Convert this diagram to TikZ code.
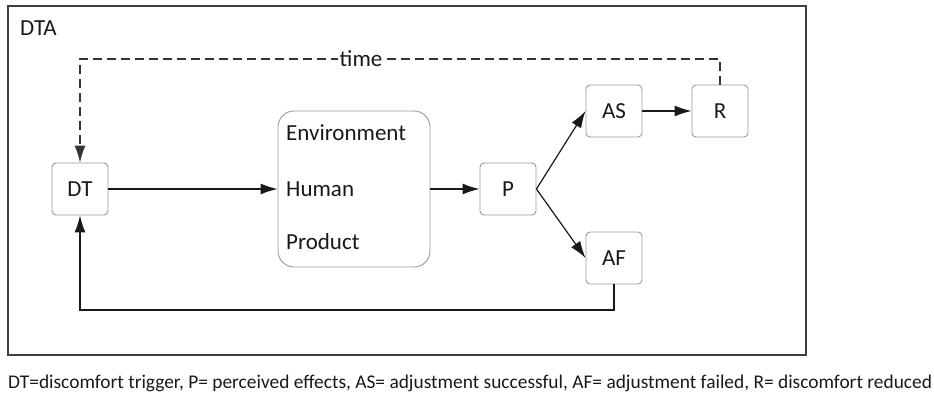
\documentclass[tikz,border=0pt]{standalone}
\usepackage{fontspec}
\setmainfont{Carlito}
\usetikzlibrary{arrows.meta}
\begin{document}
\begin{tikzpicture}[x=1pt,y=-1pt,
  every node/.style={font=\fontsize{23}{27}\selectfont, text=black!90},
  smallbox/.style={draw=black!40, line width=0.9pt, rounded corners=4pt, minimum width=56pt, minimum height=52pt, inner sep=0pt},
  bigbox/.style={draw=black!40, line width=0.9pt, rounded corners=16pt, minimum width=152pt, minimum height=156pt, inner sep=0pt},
  conn/.style={draw=black!90, line width=1.2pt, -{Latex[length=17pt,width=11pt]}},
  dashconn/.style={draw=black!80, line width=1.4pt, dash pattern=on 9pt off 5pt, -{Latex[length=17pt,width=11pt]}},
  lbl/.style={inner sep=0pt}
]
\useasboundingbox (0,0) rectangle (934,393);
\node[draw=black!75, line width=1.4pt, minimum width=798pt, minimum height=349pt, inner sep=0pt] (frame) at (407,180.5) {};
\node[lbl, anchor=west] (dta) at (20,28) {DTA};

\node[smallbox] (DT) at (80,189) {DT};
\node[bigbox] (env) at (354,189) {};
\node[lbl, anchor=west] (envA) at (286,133) {Environment};
\node[lbl, anchor=west] (envB) at (286,189) {Human};
\node[lbl, anchor=west] (envC) at (286,242) {Product};
\node[smallbox] (P) at (508,189) {P};
\node[smallbox] (AS) at (614,111) {AS};
\node[smallbox] (R) at (720,111) {R};
\node[smallbox] (AF) at (614,258) {AF};

\coordinate (tr) at (R.north |- 0,59);
\coordinate (tl) at (DT.north |- 0,59);
\draw[dashconn] (R.north) -- (tr) -- (tl) -- (DT.north);
\node[lbl, fill=white, inner xsep=2pt] (time) at (361,59) {time};

\draw[conn] (DT.east) -- (env.west);
\draw[conn] (env.east) -- (P.west);
\draw[conn] (P.east) -- (AS.west);
\draw[conn] (P.east) -- (AF.west);
\draw[conn] (AS.east) -- (R.west);
\coordinate (bl) at (DT.south |- 0,310);
\coordinate (br) at (AF.south |- 0,310);
\draw[conn] (AF.south) -- (br) -- (bl) -- (DT.south);

\node[lbl, anchor=west, font=\fontsize{19.4}{23}\selectfont] (caption) at (8,383) {DT=discomfort trigger, P= perceived effects, AS= adjustment successful, AF= adjustment failed, R= discomfort reduced};
\end{tikzpicture}
\end{document}
